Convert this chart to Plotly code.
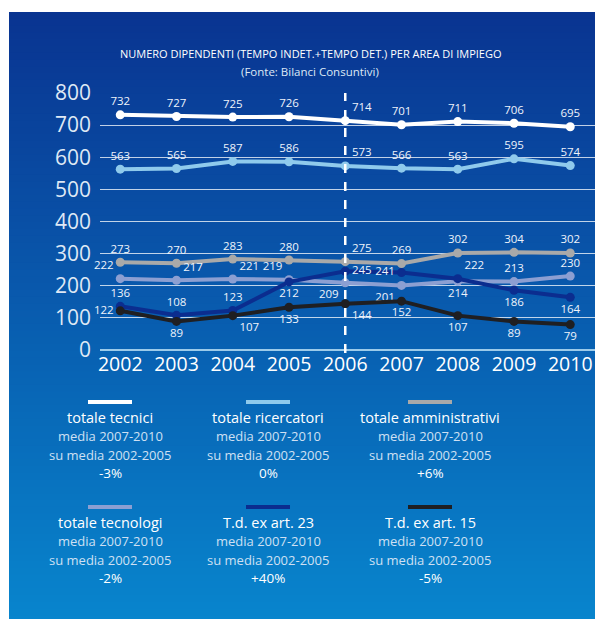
import plotly.graph_objects as go

anni = [2002, 2003, 2004, 2005, 2006, 2007, 2008, 2009, 2010]

tecnici = [732, 727, 725, 726, 714, 701, 711, 706, 695]
ricercatori = [563, 565, 587, 586, 573, 566, 563, 595, 574]
amministrativi = [273, 270, 283, 280, 275, 269, 302, 304, 302]
tecnologi = [222, 217, 221, 219, 209, 201, 214, 213, 230]
td_art23 = [136, 108, 123, 212, 245, 241, 222, 186, 164]
td_art15 = [122, 89, 107, 133, 144, 152, 107, 89, 79]

nomi = ["totale tecnici", "totale ricercatori", "totale amministrativi",
        "totale tecnologi", "T.d. ex art. 23", "T.d. ex art. 15"]
variazioni = ["-3%", "0%", "+6%", "-2%", "+40%", "-5%"]

# la pagina html ha un margine di 8px: la figura va ridotta di conseguenza
OFF = 8
W, H = 603 - OFF, 619 - OFF
# area del grafico in pixel (coordinate della pagina)
L, R, T, B = 100 - OFF, 595 - OFF, 93 - OFF, 350 - OFF


def px(x):
    return (x - OFF - L) / (R - L)


def py(y):
    return (B - (y - OFF)) / (B - T)


serie = [
    (tecnici, "#ffffff", ["top center"] * 4 + ["top right"] + ["top center"] * 4),
    (ricercatori, "#8fcaec", ["top center"] * 4 + ["top right"] + ["top center"] * 4),
    (amministrativi, "#a9a9a9", ["top center"] * 4 + ["top right"] + ["top center"] * 4),
    (tecnologi, "#8c9fd2", ["top left", "top right", "top right", "top left", "bottom left",
                            "bottom left", "bottom center", "top center", "top center"]),
    (td_art23, "#0b2d8f", ["top center", "top center", "top center", "bottom center", "middle right",
                           "middle left", "top right", "bottom center", "bottom center"]),
    (td_art15, "#1f1f22", ["middle left", "bottom center", "bottom right", "bottom center", "bottom right",
                           "bottom center", "bottom center", "bottom center", "bottom center"]),
]

fig = go.Figure()

for (vals, col, pos), nome in zip(serie, nomi):
    fig.add_trace(go.Scatter(
        x=anni, y=vals, name=nome, mode="lines+markers+text",
        line=dict(color=col, width=4),
        marker=dict(color=col, size=9),
        text=[str(v) for v in vals], textposition=pos,
        textfont=dict(color="#eef3fb", size=11.5, family="Open Sans"),
        cliponaxis=False, showlegend=False,
    ))

shapes = []
# sfondo sfumato (strisce sovrapposte per evitare giunture)
n = 90
top_c = (9, 52, 145)
bot_c = (8, 133, 205)
y0, y1 = 12, 622
for i in range(n):
    t = i / (n - 1)
    c = tuple(int(round(a + (b - a) * t)) for a, b in zip(top_c, bot_c))
    ya = y0 + (y1 - y0) * i / n
    yb = y1 if i == n - 1 else ya + (y1 - y0) / n + 3
    shapes.append(dict(type="rect", xref="paper", yref="paper",
                       x0=px(9), x1=px(606), y0=py(ya), y1=py(yb),
                       fillcolor="rgb(%d,%d,%d)" % c, line=dict(width=0), layer="below"))

# linea tratteggiata 2006
shapes.append(dict(type="line", xref="x", yref="paper", x0=2006, x1=2006,
                   y0=py(353), y1=1, line=dict(color="white", width=2.5, dash="dash")))

# legenda personalizzata
col_x = [110, 268, 430]
row_y = [402, 507]
annotations = []
for k, (nome, var) in enumerate(zip(nomi, variazioni)):
    cx = col_x[k % 3]
    ry = row_y[k // 3]
    shapes.append(dict(type="line", xref="paper", yref="paper",
                       x0=px(cx - 22), x1=px(cx + 22), y0=py(ry), y1=py(ry),
                       line=dict(color=serie[k][1], width=4)))
    righe = [(nome, 14.5, "#ffffff", 15),
             ("media 2007-2010", 13, "#cfe0f3", 34),
             ("su media 2002-2005", 13, "#cfe0f3", 53),
             (var, 13.5, "#ffffff", 71)]
    for testo, sz, c, dy in righe:
        annotations.append(dict(text=testo, x=px(cx), y=py(ry + dy), xref="paper", yref="paper",
                                showarrow=False, xanchor="center", yanchor="middle",
                                font=dict(size=sz, color=c, family="Open Sans")))

annotations.append(dict(text="NUMERO DIPENDENTI (TEMPO INDET.+TEMPO DET.) PER AREA DI IMPIEGO",
                        x=px(310), y=py(44), xref="paper", yref="paper", showarrow=False,
                        font=dict(size=11, color="#ffffff", family="Open Sans")))
annotations.append(dict(text="(Fonte: Bilanci Consuntivi)",
                        x=px(310), y=py(62), xref="paper", yref="paper", showarrow=False,
                        font=dict(size=11.5, color="#dde8f5", family="Open Sans")))

fig.update_layout(
    width=W, height=H,
    margin=dict(l=L, r=W - R, t=T, b=H - B),
    paper_bgcolor="white",
    plot_bgcolor="rgba(0,0,0,0)",
    shapes=shapes,
    annotations=annotations,
    xaxis=dict(range=[2001.64, 2010.44], tickvals=anni, showgrid=False, zeroline=False,
               tickfont=dict(size=19.5, color="#ffffff", family="Open Sans"),
               ticks="", showline=False, fixedrange=True),
    yaxis=dict(range=[0, 800], tickvals=list(range(0, 801, 100)), showgrid=True,
               gridcolor="rgba(255,255,255,0.75)", gridwidth=1,
               zeroline=True, zerolinecolor="#9ccbea", zerolinewidth=1.5,
               tickfont=dict(size=21, color="#dfe8f5", family="Open Sans"),
               ticklabelstandoff=8, showline=False),
)

fig.write_html("out.html")
